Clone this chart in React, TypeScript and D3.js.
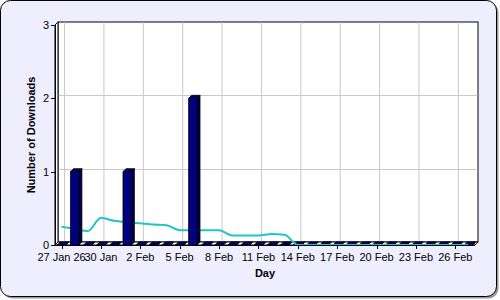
import React from "react";
import * as d3 from "d3";

const days: string[] = [
  "27 Jan", "28 Jan", "29 Jan", "30 Jan", "31 Jan",
  "1 Feb", "2 Feb", "3 Feb", "4 Feb", "5 Feb", "6 Feb", "7 Feb", "8 Feb",
  "9 Feb", "10 Feb", "11 Feb", "12 Feb", "13 Feb", "14 Feb", "15 Feb", "16 Feb",
  "17 Feb", "18 Feb", "19 Feb", "20 Feb", "21 Feb", "22 Feb", "23 Feb", "24 Feb",
  "25 Feb", "26 Feb", "27 Feb",
];

const downloads: number[] = [
  0, 1, 0, 0, 0, 1, 0, 0, 0, 0, 2, 0, 0, 0, 0, 0,
  0, 0, 0, 0, 0, 0, 0, 0, 0, 0, 0, 0, 0, 0, 0, 0,
];

const trend: number[] = [
  0.25, 0.22, 0.19, 0.37, 0.33, 0.31, 0.295, 0.28, 0.27, 0.2, 0.2, 0.2, 0.2,
  0.13, 0.13, 0.13, 0.15, 0.14, 0, 0, 0, 0, 0, 0, 0, 0, 0, 0, 0, 0, 0, 0,
];

const xTickDays: string[] = [
  "27 Jan", "30 Jan", "2 Feb", "5 Feb", "8 Feb", "11 Feb", "14 Feb",
  "17 Feb", "20 Feb", "23 Feb", "26 Feb",
];
const xTickLabels: string[] = [
  "27 Jan 26", "30 Jan", "2 Feb", "5 Feb", "8 Feb", "11 Feb", "14 Feb",
  "17 Feb", "20 Feb", "23 Feb", "26 Feb",
];
const yTicks: number[] = [0, 1, 2, 3];

export default function App() {
  const W = 500;
  const H = 300;
  const left = 55;
  const right = 475;
  const base = 245;
  const top = 25;
  const dx = 3;
  const dy = -3;

  const x = d3.scalePoint<string>().domain(days).range([left, right]).padding(0.5);
  const y = d3.scaleLinear().domain([0, 3]).range([base, top]);
  const step = x.step();
  const bw = step * 0.64;

  const line = d3
    .line<number>()
    .x((_, i) => x(days[i]) as number)
    .y((d) => y(d))
    .curve(d3.curveMonotoneX);

  const font = "Arial, 'Liberation Sans', sans-serif";

  const bar = (v: number, i: number) => {
    const cx = x(days[i]) as number;
    const x0 = cx - bw / 2;
    const x1 = cx + bw / 2;
    const yt = y(v);
    return (
      <g key={"b" + i} stroke="#000" strokeWidth={0.8} strokeLinejoin="round">
        <polygon
          points={`${x1},${yt} ${x1 + dx},${yt + dy} ${x1 + dx},${base + dy} ${x1},${base}`}
          fill="#000048"
        />
        <polygon
          points={`${x0},${yt} ${x0 + dx},${yt + dy} ${x1 + dx},${yt + dy} ${x1},${yt}`}
          fill="#000070"
        />
        {v > 0 && <rect x={x0} y={yt} width={bw} height={base - yt} fill="#000080" />}
      </g>
    );
  };

  return (
    <svg
      width={W}
      height={H}
      style={{ position: "absolute", left: 0, top: 0 }}
      fontFamily={font}
    >
      <rect x={2.5} y={2.5} width={496} height={296} rx={10} fill="#9a9a9a" />
      <rect x={0.5} y={0.5} width={496} height={296} rx={10} fill="#eeeeff" stroke="#000" />

      {/* back wall */}
      <rect x={left + dx} y={top + dy} width={right - left} height={base - top} fill="#fff" stroke="#000" />
      {/* grid */}
      {xTickDays.map((d) => (
        <line
          key={"g" + d}
          x1={(x(d) as number) + dx}
          x2={(x(d) as number) + dx}
          y1={top + dy + 0.5}
          y2={base + dy}
          stroke="#c8c8c8"
        />
      ))}
      {yTicks.slice(1, 3).map((v) => (
        <line
          key={"gy" + v}
          x1={left + dx}
          x2={right + dx - 0.5}
          y1={Math.round(y(v) + dy) + 0.5}
          y2={Math.round(y(v) + dy) + 0.5}
          stroke="#c8c8c8"
        />
      ))}
      {/* left wall */}
      <polygon
        points={`${left},${top} ${left + dx},${top + dy} ${left + dx},${base + dy} ${left},${base}`}
        fill="#fff"
        stroke="#000"
      />
      {/* floor */}
      <polygon
        points={`${left},${base} ${left + dx},${base + dy} ${right + dx},${base + dy} ${right},${base}`}
        fill="#fff"
        stroke="#000"
      />

      {/* zero-height bars */}
      {downloads.map((v, i) => (v === 0 ? bar(v, i) : null))}

      {/* trend line */}
      <path d={line(trend) || ""} fill="none" stroke="#22c4c4" strokeWidth={2} />

      {/* non-zero bars */}
      {downloads.map((v, i) => (v > 0 ? bar(v, i) : null))}

      {/* x axis */}
      <line x1={left} x2={right} y1={base + 0.5} y2={base + 0.5} stroke="#000" />
      {xTickDays.map((d, i) => (
        <g key={"t" + d}>
          <line
            x1={Math.round(x(d) as number) + 0.5}
            x2={Math.round(x(d) as number) + 0.5}
            y1={base}
            y2={base + 4}
            stroke="#000"
          />
          <text x={x(d) as number} y={261} fontSize={11} textAnchor="middle" fill="#000">
            {xTickLabels[i]}
          </text>
        </g>
      ))}
      {/* y axis */}
      <line x1={left + 0.5} x2={left + 0.5} y1={top} y2={base} stroke="#000" />
      {yTicks.map((v) => (
        <g key={"yt" + v}>
          <line
            x1={left - 4}
            x2={left}
            y1={Math.round(y(v)) + 0.5}
            y2={Math.round(y(v)) + 0.5}
            stroke="#000"
          />
          <text x={left - 6} y={y(v) + 4} fontSize={11} textAnchor="end" fill="#000">
            {v}
          </text>
        </g>
      ))}

      <text x={(left + right) / 2} y={277} fontSize={11} fontWeight="bold" textAnchor="middle">
        Day
      </text>
      <text
        transform={`translate(35,${(top + base) / 2}) rotate(-90)`}
        fontSize={11}
        fontWeight="bold"
        textAnchor="middle"
      >
        Number of Downloads
      </text>
    </svg>
  );
}
